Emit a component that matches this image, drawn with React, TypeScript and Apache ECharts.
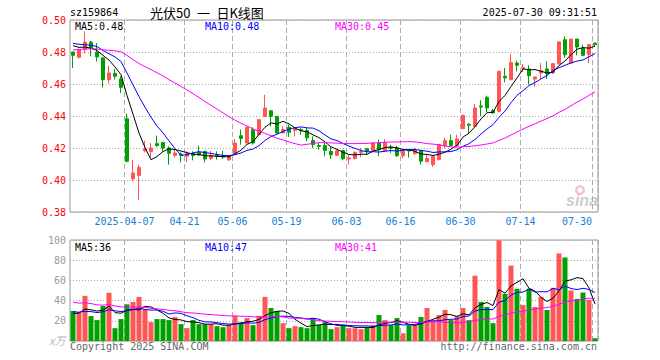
import React, { useEffect, useRef } from "react";
import * as echarts from "echarts";

const dates = [
  "2025-03-24","2025-03-25","2025-03-26","2025-03-27","2025-03-28","2025-03-31",
  "2025-04-01","2025-04-02","2025-04-03","2025-04-07","2025-04-08","2025-04-09","2025-04-10","2025-04-11","2025-04-14","2025-04-15","2025-04-16","2025-04-17","2025-04-18","2025-04-21","2025-04-22","2025-04-23","2025-04-24","2025-04-25","2025-04-28","2025-04-29","2025-04-30",
  "2025-05-06","2025-05-07","2025-05-08","2025-05-09","2025-05-12","2025-05-13","2025-05-14","2025-05-15","2025-05-16","2025-05-19","2025-05-20","2025-05-21","2025-05-22","2025-05-23","2025-05-26","2025-05-27","2025-05-28","2025-05-29","2025-05-30",
  "2025-06-03","2025-06-04","2025-06-05","2025-06-06","2025-06-09","2025-06-10","2025-06-11","2025-06-12","2025-06-13","2025-06-16","2025-06-17","2025-06-18","2025-06-19","2025-06-20","2025-06-23","2025-06-24","2025-06-25","2025-06-26","2025-06-27","2025-06-30",
  "2025-07-01","2025-07-02","2025-07-03","2025-07-04","2025-07-07","2025-07-08","2025-07-09","2025-07-10","2025-07-11","2025-07-14","2025-07-15","2025-07-16","2025-07-17","2025-07-18","2025-07-21","2025-07-22","2025-07-23","2025-07-24","2025-07-25","2025-07-28","2025-07-29","2025-07-30",
];

const opens = [
  0.4800,0.4767,0.4815,0.4862,0.4798,0.4763,0.4627,0.4667,0.4631,0.4383,
  0.4008,0.4029,0.4183,0.4177,0.4227,0.4235,0.4200,0.4154,0.4162,0.4148,
  0.4165,0.4173,0.4179,0.4135,0.4156,0.4152,0.4127,0.4165,0.4277,0.4231,
  0.4315,0.4283,0.4398,0.4433,0.4398,0.4294,0.4329,0.4310,0.4315,0.4310,
  0.4246,0.4215,0.4215,0.4179,0.4154,0.4183,0.4131,0.4135,0.4173,0.4196,
  0.4183,0.4231,0.4183,0.4204,0.4200,0.4152,0.4190,0.4165,0.4183,0.4115,
  0.4096,0.4127,0.4215,0.4246,0.4215,0.4321,0.4348,0.4335,0.4463,0.4517,
  0.4433,0.4429,0.4648,0.4627,0.4731,0.4698,0.4694,0.4631,0.4669,0.4694,
  0.4669,0.4727,0.4877,0.4731,0.4881,0.4825,0.4783,0.4856,
];
const closes = [
  0.4779,0.4815,0.4862,0.4821,0.4769,0.4627,0.4669,0.4648,0.4579,0.4117,
  0.4044,0.4079,0.4194,0.4200,0.4215,0.4200,0.4167,0.4169,0.4154,0.4165,
  0.4152,0.4156,0.4131,0.4152,0.4148,0.4144,0.4148,0.4231,0.4260,0.4329,
  0.4231,0.4377,0.4450,0.4398,0.4294,0.4315,0.4298,0.4319,0.4310,0.4263,
  0.4221,0.4210,0.4185,0.4158,0.4183,0.4133,0.4138,0.4173,0.4179,0.4179,
  0.4231,0.4190,0.4235,0.4198,0.4152,0.4179,0.4181,0.4185,0.4117,0.4135,
  0.4148,0.4221,0.4246,0.4215,0.4256,0.4404,0.4342,0.4450,0.4456,0.4450,
  0.4419,0.4679,0.4638,0.4735,0.4717,0.4702,0.4652,0.4644,0.4683,0.4663,
  0.4727,0.4863,0.4783,0.4881,0.4831,0.4779,0.4846,0.4846,
];
const lows = [
  0.4700,0.4758,0.4790,0.4773,0.4740,0.4579,0.4602,0.4627,0.4544,0.4110,
  0.3992,0.3873,0.4173,0.4142,0.4206,0.4179,0.4096,0.4142,0.4110,0.4110,
  0.4123,0.4152,0.4110,0.4123,0.4127,0.4131,0.4119,0.4165,0.4221,0.4231,
  0.4221,0.4277,0.4394,0.4335,0.4290,0.4294,0.4269,0.4273,0.4283,0.4242,
  0.4200,0.4190,0.4148,0.4131,0.4148,0.4123,0.4096,0.4127,0.4142,0.4158,
  0.4179,0.4148,0.4179,0.4169,0.4144,0.4135,0.4140,0.4156,0.4096,0.4110,
  0.4081,0.4123,0.4200,0.4210,0.4210,0.4321,0.4294,0.4331,0.4398,0.4423,
  0.4415,0.4423,0.4610,0.4623,0.4679,0.4675,0.4596,0.4581,0.4631,0.4631,
  0.4663,0.4721,0.4763,0.4731,0.4779,0.4773,0.4731,0.4835,
];
const highs = [
  0.4800,0.4821,0.4929,0.4870,0.4856,0.4769,0.4715,0.4694,0.4648,0.4415,
  0.4127,0.4096,0.4246,0.4231,0.4277,0.4235,0.4210,0.4190,0.4173,0.4179,
  0.4179,0.4215,0.4183,0.4183,0.4179,0.4183,0.4152,0.4256,0.4315,0.4335,
  0.4329,0.4377,0.4533,0.4433,0.4398,0.4335,0.4346,0.4329,0.4329,0.4329,
  0.4273,0.4235,0.4231,0.4210,0.4190,0.4190,0.4158,0.4179,0.4200,0.4200,
  0.4235,0.4252,0.4256,0.4221,0.4215,0.4190,0.4190,0.4200,0.4190,0.4158,
  0.4152,0.4225,0.4263,0.4283,0.4283,0.4410,0.4356,0.4477,0.4498,0.4527,
  0.4444,0.4679,0.4700,0.4788,0.4746,0.4725,0.4717,0.4644,0.4731,0.4742,
  0.4731,0.4867,0.4898,0.4881,0.4881,0.4846,0.4846,0.4856,
];
// volume, 万
const volumes = [
  29.7,28.3,44.7,24.7,20.7,34.7,47.7,12.7,21.7,36.3,
  38.7,43.7,31.3,18.7,21.7,21.7,20.7,23.7,16.7,12.7,
  20.7,16.7,16.7,16.7,14.7,13.7,15.7,24.7,18.7,22.7,
  15.7,25.0,43.7,32.7,29.7,17.7,12.7,14.7,13.7,12.7,
  22.7,15.7,18.7,11.7,13.7,16.7,12.7,12.7,11.7,13.7,
  15.7,25.7,20.7,15.7,22.7,7.7,15.7,15.7,23.7,32.7,
  20.0,25.7,30.7,20.7,24.7,32.7,20.7,64.7,38.7,33.7,
  17.7,99.7,46.7,74.7,51.7,35.7,51.7,33.7,43.7,30.7,
  52.7,86.7,82.7,50.0,41.7,48.0,40.7,2.7,
];
// estimated closes / volumes of the 29 sessions before the visible window (for the moving averages)
const priorCloses = [
  0.472,0.475,0.478,0.481,0.479,0.476,0.474,0.477,0.480,0.483,
  0.481,0.478,0.476,0.479,0.482,0.484,0.481,0.479,0.483,0.485,
  0.487,0.489,0.486,0.484,0.488,0.487,0.485,0.486,0.484,
];
const priorVolumes = [
  52,38,45,61,40,35,48,55,39,42,
  33,47,50,36,41,44,38,46,40,30,
  33,36,28,30,26.5,27,24,29,26.8,
];

const tickDates = ["2025-04-07","2025-04-21","2025-05-06","2025-05-19","2025-06-03","2025-06-16","2025-06-30","2025-07-14","2025-07-30"];
const tickTexts = ["2025-04-07","04-21","05-06","05-19","06-03","06-16","06-30","07-14","07-30"];

const priceMaLabels = ["MA5:0.48", "MA10:0.48", "MA30:0.45"];
const volMaLabels = ["MA5:36", "MA10:47", "MA30:41"];

const RED = "#ff5555";
const GREEN = "#00a000";
const MA_COLORS = ["#000000", "#0000ff", "#ff00ff"];
const MONO = '"DejaVu Sans Mono", monospace';

function movingAverage(values: number[], prior: number[], n: number): number[] {
  const all = prior.concat(values);
  const off = prior.length;
  return values.map((_, k) => {
    const end = k + off;
    let s = 0;
    for (let j = end - n + 1; j <= end; j++) s += all[j];
    return s / n;
  });
}

export default function App() {
  const ref = useRef<HTMLDivElement>(null);
  useEffect(() => {
    if (!ref.current) return;
    const chart = echarts.init(ref.current, null, { renderer: "svg" });
    const tickIdx = tickDates.map((d) => dates.indexOf(d));
    const ohlc = dates.map((_, i) => [opens[i], closes[i], lows[i], highs[i]]);
    const pMA = [5, 10, 30].map((n) => movingAverage(closes, priorCloses, n));
    const vMA = [5, 10, 30].map((n) => movingAverage(volumes, priorVolumes, n));
    const lastIdx = tickIdx[tickIdx.length - 1];

    const splitLineX = {
      show: true,
      interval: (i: number) => tickIdx.includes(i),
      lineStyle: { color: "#aaaaaa", type: [5, 3], width: 1 },
    };
    const labelStyle = { color: "#1481d6", fontFamily: MONO, fontSize: 10 };

    const option: any = {
      animation: false,
      backgroundColor: "#ffffff",
      grid: [
        { left: 70, top: 20, width: 528, height: 192, show: true, borderColor: "#999999", borderWidth: 1 },
        { left: 70, top: 240, width: 528, height: 101, show: true, borderColor: "#999999", borderWidth: 1 },
      ],
      xAxis: [
        {
          type: "category", gridIndex: 0, data: dates, boundaryGap: true,
          axisLine: { show: false }, axisTick: { show: false },
          axisLabel: {
            ...labelStyle,
            margin: 4,
            interval: (i: number) => tickIdx.includes(i),
            formatter: (v: string) => {
              const k = tickDates.indexOf(v);
              if (k < 0) return "";
              if (dates.indexOf(v) === lastIdx) return "{last|" + tickTexts[k] + "}";
              return "{n|" + tickTexts[k] + "}";
            },
            rich: {
              n: { ...labelStyle, padding: [0, 5, 0, 0] },
              last: { ...labelStyle, padding: [0, 36, 0, 0] },
            },
          },
          splitLine: splitLineX,
        },
        {
          type: "category", gridIndex: 1, data: dates, boundaryGap: true,
          axisLine: { show: false }, axisTick: { show: false }, axisLabel: { show: false },
          splitLine: splitLineX,
        },
      ],
      yAxis: [
        {
          type: "value", gridIndex: 0, min: 0.38, max: 0.5, interval: 0.02,
          axisLine: { show: false }, axisTick: { show: false },
          axisLabel: { color: "#ff0000", fontFamily: MONO, fontSize: 10, margin: 4, formatter: (v: number) => v.toFixed(2) },
          splitLine: { show: true, lineStyle: { color: "#aaaaaa", type: [1, 2], width: 1 } },
        },
        {
          type: "value", gridIndex: 1, min: 0, max: 100, interval: 20,
          axisLine: { show: false }, axisTick: { show: false },
          axisLabel: { color: "#999999", fontFamily: MONO, fontSize: 10, margin: 4, formatter: (v: number) => (v === 0 ? "" : String(v)) },
          splitLine: { show: true, lineStyle: { color: "#aaaaaa", type: [1, 2], width: 1 } },
        },
      ],
      series: [
        {
          type: "candlestick", xAxisIndex: 0, yAxisIndex: 0, data: ohlc, barWidth: 4,
          itemStyle: { color: RED, color0: GREEN, borderColor: RED, borderColor0: GREEN, borderWidth: 1 },
        },
        ...pMA.map((d, k) => ({
          type: "line", xAxisIndex: 0, yAxisIndex: 0, data: d, symbol: "none", silent: true, z: 3,
          lineStyle: { color: MA_COLORS[k], width: 1 },
        })),
        {
          type: "bar", xAxisIndex: 1, yAxisIndex: 1, barWidth: 5,
          data: volumes.map((v, i) => ({ value: v, itemStyle: { color: closes[i] >= opens[i] ? RED : GREEN } })),
        },
        ...vMA.map((d, k) => ({
          type: "line", xAxisIndex: 1, yAxisIndex: 1, data: d, symbol: "none", silent: true, z: 3,
          lineStyle: { color: MA_COLORS[k], width: 1 },
        })),
      ],
      graphic: [
        { type: "text", x: 70, y: 12, style: { text: "sz159864", fill: "#000", font: "10px " + MONO, align: "left", verticalAlign: "middle" } },
        { type: "text", x: 150, y: 12, style: { text: "光伏50\u2002一\u2002日K线图", fill: "#000", font: '13px "Noto Sans CJK SC"', align: "left", verticalAlign: "middle" } },
        { type: "text", x: 597, y: 12, style: { text: "2025-07-30 09:31:51", fill: "#000", font: "10px " + MONO, align: "right", verticalAlign: "middle" } },
        ...priceMaLabels.map((t, k) => ({
          type: "text", x: 75 + 130 * k, y: 26.5, z: 10,
          style: { text: t, fill: MA_COLORS[k], font: "10px " + MONO, align: "left", verticalAlign: "middle" },
        })),
        ...volMaLabels.map((t, k) => ({
          type: "text", x: 75 + 130 * k, y: 247, z: 10,
          style: { text: t, fill: MA_COLORS[k], font: "10px " + MONO, align: "left", verticalAlign: "middle" },
        })),
        { type: "text", x: 49, y: 340, style: { text: "x万", fill: "#bbbbbb", font: 'italic 11px "Noto Sans CJK SC"', align: "left", verticalAlign: "middle" } },
        { type: "text", x: 70, y: 346, style: { text: "Copyright 2025 SINA.COM", fill: "#666666", font: "10px " + MONO, align: "left", verticalAlign: "middle" } },
        { type: "text", x: 597, y: 346, style: { text: "http://finance.sina.com.cn", fill: "#666666", font: "10px " + MONO, align: "right", verticalAlign: "middle" } },
        { type: "ring", shape: { cx: 580, cy: 190, r: 5, r0: 2.5 }, style: { fill: "rgba(230,90,90,0.35)" } },
        { type: "text", x: 582, y: 200, style: { text: "sina", fill: "rgba(140,140,140,0.45)", font: "italic bold 16px Arial, sans-serif", align: "center", verticalAlign: "middle" } },
      ],
    };
    chart.setOption(option);
    return () => chart.dispose();
  }, []);
  return (
    <div
      ref={ref}
      style={{ position: "fixed", left: 0, top: 0, width: 660, height: 360, background: "#fff" }}
    />
  );
}
